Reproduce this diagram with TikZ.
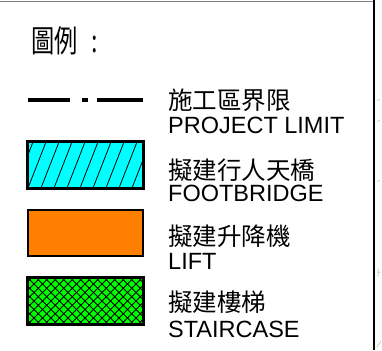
\documentclass[tikz,border=0pt]{standalone}
\usepackage{fontspec}
\setmainfont{Liberation Sans}
\newfontfamily\cjk{Noto Sans CJK TC}
\definecolor{bridgecyan}{RGB}{0,255,255}
\definecolor{liftorange}{RGB}{255,128,0}
\definecolor{stairgreen}{RGB}{0,255,0}
\begin{document}
\begin{tikzpicture}[x=1pt, y=-1pt,
    legendbox/.style={shape=rectangle, draw, color=black, line width=1.8pt, minimum width=115pt, minimum height=46pt, inner sep=0pt},
    hanzi/.style={anchor=base west, inner sep=0pt, font=\cjk\fontsize{24.5}{28}\selectfont},
    latin/.style={anchor=base west, inner sep=0pt, font=\fontsize{23.5}{28}\selectfont},
    hatch/.style={line width=0.8pt, color=black}]
    \useasboundingbox (0,0) rectangle (382,350);
    % frame
    \draw[gray, line width=0.6pt] (0,1) -- (374,1);
    \draw[black, line width=2.5pt] (374,0) -- (374,350);
    \draw[gray!60, line width=0.5pt] (377,101) -- (380,99) (377,122) -- (380,120) (377,182) -- (380,180) (377,272) -- (381,272) (378,268) -- (378,277) (377,347) -- (381,341);
    % title
    \node[anchor=base west, inner sep=0pt, font=\cjk\fontsize{31}{34}\selectfont, xscale=0.75] (LEGtitle) at (31,53) {圖例\hspace{18pt}:};
    % project limit
    \coordinate (LIMa) at (28,100);
    \coordinate (LIMb) at (143,100);
    \draw[black, line width=4pt, dash pattern=on 42pt off 12pt on 6pt off 9pt on 46pt off 20pt] (LIMa) -- (LIMb);
    \node[hanzi] (LIMzh) at (168,110) {施工區界限};
    \node[latin] (LIMen) at (168,133) {PROJECT LIMIT};
    % footbridge
    \node[legendbox, fill=bridgecyan] (BRIDGEbox) at (85.5,165) {};
    \begin{scope}
        \clip (BRIDGEbox.south west) rectangle (BRIDGEbox.north east);
        \foreach \i in {-2,...,10}
            \draw[hatch] (28+13*\i,188) -- ++(18,-46);
    \end{scope}
    \draw[black, line width=1.8pt] (BRIDGEbox.south west) rectangle (BRIDGEbox.north east);
    \node[hanzi] (BRIDGEzh) at (168,179) {擬建行人天橋};
    \node[latin] (BRIDGEen) at (168,201) {FOOTBRIDGE};
    % lift
    \node[legendbox, fill=liftorange] (LIFTbox) at (85.5,233) {};
    \node[hanzi] (LIFTzh) at (168,245) {擬建升降機};
    \node[latin] (LIFTen) at (168,269) {LIFT};
    % staircase
    \node[legendbox, fill=stairgreen] (STAIRbox) at (85.5,301) {};
    \begin{scope}
        \clip (STAIRbox.south west) rectangle (STAIRbox.north east);
        \foreach \i in {-6,...,14} {
            \draw[hatch] (28+8.5*\i,324) -- ++(46,-46);
            \draw[hatch] (28+8.5*\i,278) -- ++(46,46);
        }
    \end{scope}
    \draw[black, line width=1.8pt] (STAIRbox.south west) rectangle (STAIRbox.north east);
    \node[hanzi] (STAIRzh) at (168,311) {擬建樓梯};
    \node[latin] (STAIRen) at (168,337) {STAIRCASE};
\end{tikzpicture}
\end{document}
